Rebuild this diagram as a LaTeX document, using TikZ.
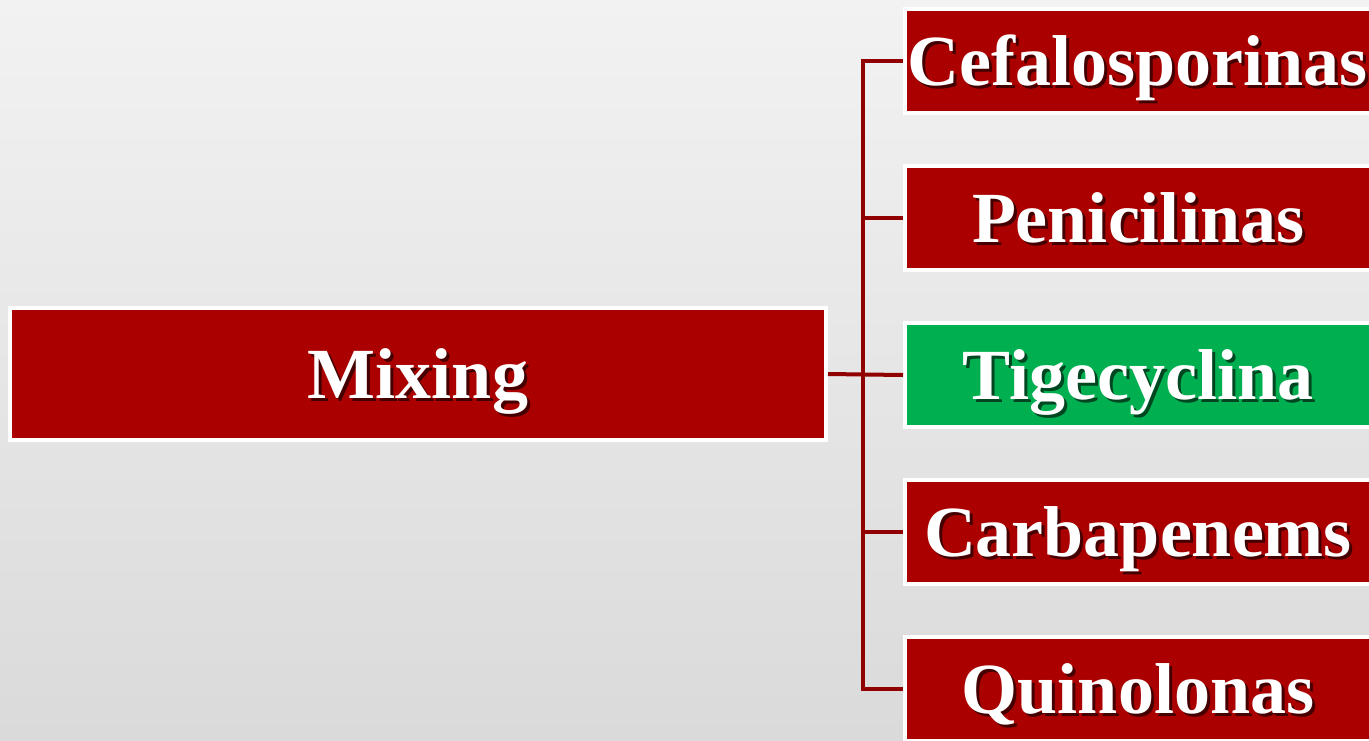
\documentclass[tikz,border=0pt]{standalone}
\usepackage{fontspec}
\setmainfont{Liberation Serif}
\definecolor{boxred}{RGB}{170,0,0}
\definecolor{boxgreen}{RGB}{0,176,80}
\definecolor{linered}{RGB}{145,0,0}
\definecolor{bgtop}{RGB}{242,242,242}
\definecolor{bgbot}{RGB}{218,218,218}
\newcommand{\shtxt}[2]{\makebox[0pt][l]{\hspace{3pt}\raisebox{-3pt}{\textcolor{#1}{#2}}}#2}
\begin{document}
\begin{tikzpicture}[x=1pt,y=-1pt,
  box/.style={rectangle, draw=white, line width=4pt, text=white,
    font=\fontsize{72}{80}\selectfont\bfseries, inner sep=0pt,
    text height=50pt, text depth=2pt},
  redbox/.style={box, fill=boxred},
  greenbox/.style={box, fill=boxgreen},
  rbox/.style={minimum width=466pt, minimum height=104pt},
  conn/.style={draw=linered, line width=4pt}]
\useasboundingbox (0,0) rectangle (1369,740);
\shade[top color=bgtop, bottom color=bgbot] (0,0) rectangle (1369,740);
\begin{scope}
\clip (0,0) rectangle (1369,740);
\node[redbox, minimum width=816pt, minimum height=132pt] (mix) at (418,374) {\shtxt{black!60!boxred}{Mixing}};
\node[redbox, rbox] (c1) at (1138,61) {\shtxt{black!60!boxred}{Cefalosporinas}};
\node[redbox, rbox] (c2) at (1138,218) {\shtxt{black!60!boxred}{Penicilinas}};
\node[greenbox, rbox] (c3) at (1138,375) {\shtxt{black!60!boxgreen}{Tigecyclina}};
\node[redbox, rbox] (c4) at (1138,532) {\shtxt{black!60!boxred}{Carbapenems}};
\node[redbox, rbox] (c5) at (1138,689) {\shtxt{black!60!boxred}{Quinolonas}};
\draw[conn] (c1.west) -- ++(-40,0) |- (c5.west);
\draw[conn] (c2.west) -- ++(-40,0);
\draw[conn] (c4.west) -- ++(-40,0);
\draw[conn] (mix.east) -- (c3.west);
\end{scope}
\end{tikzpicture}
\end{document}
